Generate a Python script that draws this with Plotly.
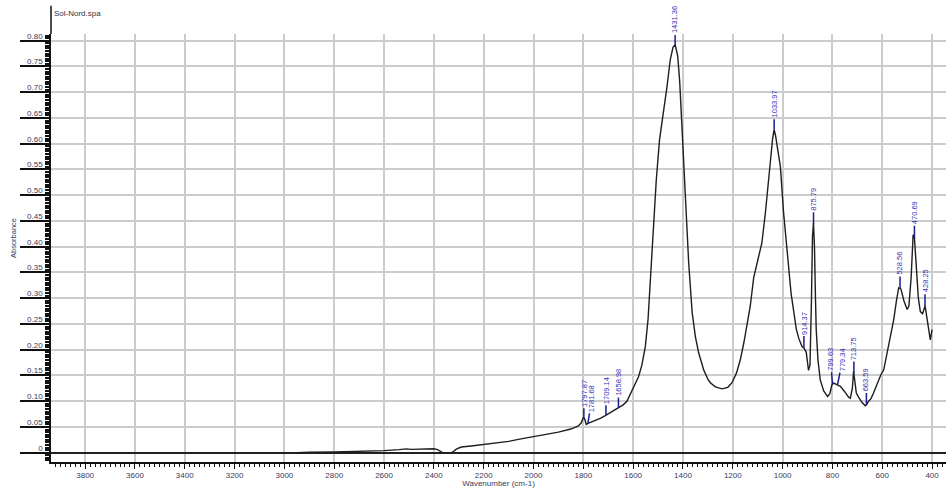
import numpy as np
import plotly.graph_objects as go

# ---- data ----
wavenumber = [2950, 2900, 2800, 2700, 2600, 2540, 2510, 2490, 2450, 2400, 2385, 2370, 2360, 2340,
              2325, 2310, 2290, 2250, 2200, 2150, 2100, 2050, 2000, 1950, 1900, 1850, 1820, 1808,
              1800, 1795, 1788, 1781, 1770, 1750, 1730, 1712, 1705, 1690, 1670, 1659, 1640, 1625,
              1612, 1595, 1578, 1565, 1551, 1540, 1531, 1518, 1507, 1494, 1480, 1464, 1451, 1440,
              1431, 1421, 1413, 1407, 1398, 1390, 1377, 1363, 1350, 1337, 1317, 1300, 1290, 1270,
              1243, 1220, 1203, 1185, 1170, 1155, 1140, 1130, 1116, 1100, 1083, 1069, 1055, 1049,
              1040, 1034, 1028, 1020, 1009, 996, 985, 976, 966, 956, 945, 935, 922, 914, 905, 896,
              890, 884, 880, 876, 872, 868, 865, 858, 849, 835, 819, 810, 802, 795, 779, 768, 750,
              735, 728, 720, 715, 711, 704, 695, 680, 668, 663, 655, 645, 635, 620, 605, 594, 575,
              554, 543, 534, 525, 513, 500, 493, 484, 476, 471, 465, 455, 447, 438, 428, 420, 412,
              407, 400]
absorbance = [0.000, 0.001, 0.0015, 0.0025, 0.004, 0.006, 0.0075, 0.0065, 0.0075, 0.0078, 0.006, 0.001,
              -0.001, -0.001, 0.001, 0.007, 0.011, 0.013, 0.016, 0.019, 0.022, 0.027, 0.031, 0.035,
              0.040, 0.046, 0.052, 0.058, 0.068, 0.066, 0.055, 0.057, 0.059, 0.062, 0.067, 0.072,
              0.074, 0.078, 0.084, 0.088, 0.093, 0.100, 0.114, 0.130, 0.148, 0.170, 0.206, 0.260,
              0.336, 0.433, 0.530, 0.608, 0.653, 0.711, 0.763, 0.787, 0.792, 0.770, 0.720, 0.660,
              0.580, 0.498, 0.369, 0.272, 0.225, 0.194, 0.161, 0.143, 0.136, 0.128, 0.124, 0.127,
              0.136, 0.155, 0.180, 0.215, 0.260, 0.284, 0.340, 0.375, 0.408, 0.466, 0.540, 0.563,
              0.610, 0.628, 0.615, 0.590, 0.556, 0.466, 0.400, 0.362, 0.310, 0.272, 0.240, 0.222,
              0.206, 0.203, 0.195, 0.160, 0.170, 0.300, 0.420, 0.446, 0.400, 0.300, 0.239, 0.180,
              0.142, 0.120, 0.109, 0.115, 0.132, 0.135, 0.132, 0.129, 0.118, 0.108, 0.106, 0.125,
              0.158, 0.145, 0.116, 0.108, 0.097, 0.091, 0.093, 0.100, 0.105, 0.116, 0.135, 0.152,
              0.161, 0.205, 0.258, 0.295, 0.320, 0.318, 0.295, 0.278, 0.285, 0.340, 0.423, 0.420,
              0.370, 0.300, 0.274, 0.270, 0.285, 0.262, 0.235, 0.219, 0.239]

peak_positions = [1797.87, 1781.68, 1709.14, 1658.98, 1431.36, 1033.97, 914.37, 875.79,
                  799.63, 779.34, 713.75, 663.59, 528.56, 470.69, 428.25]
peak_labels = ["1797.87", "1781.68", "1709.14", "1658.98", "1431.36", "1033.97", "914.37", "875.79",
               "799.63", "779.34", "713.75", "663.59", "528.56", "470.69", "428.25"]

y_tickvals = [0, 0.05, 0.10, 0.15, 0.20, 0.25, 0.30, 0.35, 0.40, 0.45, 0.50, 0.55, 0.60, 0.65, 0.70, 0.75, 0.80]
y_ticktext = ["0", "0.05", "0.10", "0.15", "0.20", "0.25", "0.30", "0.35", "0.40", "0.45", "0.50",
              "0.55", "0.60", "0.65", "0.70", "0.75", "0.80"]
x_tickvals = [3800, 3600, 3400, 3200, 3000, 2800, 2600, 2400, 2200, 2000, 1800, 1600, 1400, 1200, 1000, 800, 600, 400]

file_title = "Sol-Nord.spa"

# small horizontal label nudges (pixels) to keep crowded labels apart, as in the reference
label_nudge = {"1781.68": 4, "779.34": 5, "799.63": -2}

FONT = "Liberation Sans, Arial, sans-serif"
LABEL_COLOR = "#3a3a5c"

fig = go.Figure()
fig.add_trace(go.Scatter(x=wavenumber, y=absorbance, mode="lines",
                         line=dict(color="#1e1e1e", width=1.4), hoverinfo="skip"))

# peak annotations (y taken from the spectrum itself)
wn_asc = np.array(wavenumber[::-1], dtype=float)
ab_asc = np.array(absorbance[::-1], dtype=float)
for pos, lab in zip(peak_positions, peak_labels):
    yv = float(np.interp(pos, wn_asc, ab_asc))
    fig.add_annotation(x=pos, y=yv, text=lab, textangle=-90, showarrow=True,
                       arrowhead=0, arrowwidth=1.5, arrowcolor="#1c1c8c",
                       ax=label_nudge.get(lab, 0), ay=-25, standoff=0,
                       font=dict(family=FONT, size=7.5, color="#3434b4"))

fig.add_annotation(x=0, y=1.0, xref="paper", yref="paper", text=file_title, showarrow=False,
                   xanchor="left", yanchor="bottom", yshift=14, xshift=1,
                   font=dict(family=FONT, size=8, color="#333344"))
fig.add_annotation(x=0, y=0.5, xref="paper", yref="paper", text="Absorbance", showarrow=False,
                   textangle=-90, xanchor="center", yanchor="middle", xshift=-38, yshift=10,
                   font=dict(family=FONT, size=7.5, color=LABEL_COLOR))

# upward extension of the y axis line
fig.add_shape(type="line", xref="paper", yref="paper", x0=0, x1=0, y0=1, y1=1.066,
              line=dict(color="#111111", width=1.5))

fig.update_layout(
    width=947, height=488,
    margin=dict(l=51, r=1, t=34, b=26),
    paper_bgcolor="white", plot_bgcolor="white",
    showlegend=False,
    xaxis=dict(
        range=[3937, 344], tickvals=x_tickvals, ticktext=[str(v) for v in x_tickvals],
        showgrid=True, gridcolor="#cccccc", gridwidth=1.5,
        showline=True, linecolor="#111111", linewidth=1.5,
        ticks="outside", ticklen=5, tickwidth=1.2, tickcolor="#111111",
        minor=dict(dtick=20, ticks="outside", ticklen=3, tickcolor="#111111", showgrid=False, tick0=0),
        zeroline=False,
        tickfont=dict(family=FONT, size=8, color=LABEL_COLOR),
        title=dict(text="Wavenumber (cm-1)", font=dict(family=FONT, size=8, color=LABEL_COLOR), standoff=2),
    ),
    yaxis=dict(
        range=[-0.018, 0.813], tickvals=y_tickvals, ticktext=y_ticktext,
        showgrid=True, gridcolor="#cccccc", gridwidth=1.5,
        showline=True, linecolor="#111111", linewidth=1.5,
        ticks="outside", ticklen=29, tickwidth=1.5, tickcolor="#111111",
        minor=dict(dtick=0.005, ticks="outside", ticklen=4, tickcolor="#111111", showgrid=False, tick0=0),
        zeroline=True, zerolinecolor="#222222", zerolinewidth=1.5,
        ticklabelstandoff=-24, ticklabelshift=-5,
        tickfont=dict(family=FONT, size=8, color=LABEL_COLOR),
    ),
)

fig.write_html("out.html")
